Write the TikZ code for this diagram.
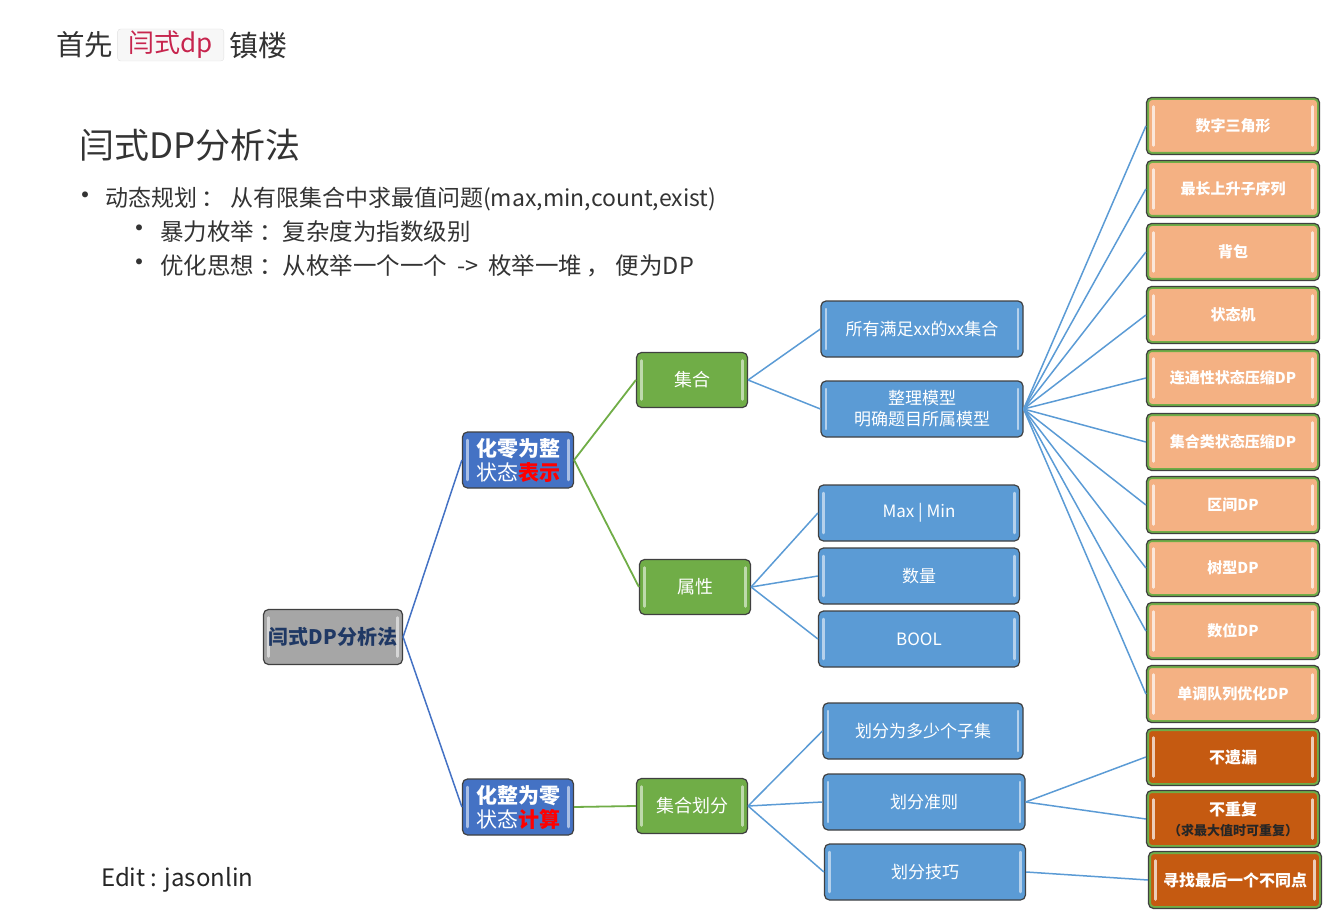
\documentclass[tikz,border=0pt]{standalone}
\usepackage{fontspec}
\setmainfont{Noto Sans CJK SC}
\usetikzlibrary{positioning}

\definecolor{rootgray}{HTML}{A6A6A6}
\definecolor{rootink}{HTML}{1F3864}
\definecolor{stateblue}{HTML}{4472C4}
\definecolor{leafblue}{HTML}{5B9BD5}
\definecolor{setgreen}{HTML}{70AD47}
\definecolor{modelorange}{HTML}{F4B183}
\definecolor{rulebrown}{HTML}{C55A11}
\definecolor{codered}{HTML}{C7254E}
\definecolor{inkgray}{HTML}{333333}

\tikzset{
  bevel/.style={path picture={
    \draw[white,opacity=.55,line width=2.5pt,line cap=round]
      ([shift={(5pt,-8pt)}]path picture bounding box.north west)
      -- ([shift={(5pt,8pt)}]path picture bounding box.south west)
      ([shift={(-5pt,-8pt)}]path picture bounding box.north east)
      -- ([shift={(-5pt,8pt)}]path picture bounding box.south east);}},
  ringbevel/.style={path picture={
    \draw[setgreen,line width=5pt,rounded corners=5pt]
      (path picture bounding box.south west) rectangle
      (path picture bounding box.north east);
    \draw[white,opacity=.7,line width=2.5pt,line cap=round]
      ([shift={(7pt,-9pt)}]path picture bounding box.north west)
      -- ([shift={(7pt,9pt)}]path picture bounding box.south west)
      ([shift={(-7pt,-9pt)}]path picture bounding box.north east)
      -- ([shift={(-7pt,9pt)}]path picture bounding box.south east);}},
  box/.style={draw=black!75,line width=1.2pt,rounded corners=5pt,text=white,
    align=center,inner sep=2pt,font=\fontsize{17}{21}\selectfont},
  rootbox/.style={box,bevel,fill=rootgray,text=rootink,minimum width=139pt,
    minimum height=55pt,font=\fontsize{20}{24}\selectfont\bfseries},
  statebox/.style={box,bevel,fill=stateblue,minimum width=111pt,
    minimum height=56pt,font=\fontsize{21}{24}\selectfont},
  setbox/.style={box,bevel,fill=setgreen,minimum width=111pt,minimum height=55pt,
    font=\fontsize{18}{21}\selectfont},
  leafbox/.style={box,bevel,fill=leafblue,minimum width=202pt,minimum height=56pt},
  modelbox/.style={box,ringbevel,fill=modelorange,minimum width=173pt,
    minimum height=57pt,font=\fontsize{15}{18}\selectfont\bfseries},
  rulebox/.style={modelbox,fill=rulebrown,font=\fontsize{16}{20}\selectfont\bfseries},
  trunk/.style={stateblue,line width=1.5pt},
  branch/.style={setgreen,line width=1.8pt},
  twig/.style={leafblue,line width=1.5pt},
  say/.style={anchor=west,inner sep=0,text=inkgray,font=\fontsize{23.5}{26}\selectfont},
  dot/.style={inner sep=0,text=inkgray,font=\fontsize{28}{30}\selectfont},
}

\begin{document}
\begin{tikzpicture}[x=1pt,y=-1pt]
\useasboundingbox (0,0) rectangle (1342,912);
% heading lines
\node[anchor=west,inner sep=0,text=inkgray,font=\fontsize{28.5}{30}\selectfont]
  (first) at (56,45) {首先};
\node[right=4pt of first,fill=black!3,draw=black!12,rounded corners=3pt,
  text=codered,minimum height=32pt,inner xsep=11pt,inner ysep=0pt,
  font=\fontsize{26}{28}\selectfont] (code) {闫式dp};
\node[right=5pt of code,inner sep=0,text=inkgray,font=\fontsize{29}{30}\selectfont]
  (last) {镇楼};
\node[anchor=west,inner sep=0,text=inkgray,font=\fontsize{35}{40}\selectfont]
  (title) at (79,145) {闫式DP分析法};
\node[dot] (dot1) at (85,199) {•};
\node[say,font=\fontsize{23}{26}\selectfont] (line1) at (105,199)
  {动态规划\hspace{4pt}：\hspace{6pt}从有限集合中求最值问题(max,min,count,exist)};
\node[dot] (dot2) at (139,232) {•};
\node[say] (line2) at (160,232) {暴力枚举\hspace{5pt}：复杂度为指数级别};
\node[dot] (dot3) at (139,266) {•};
\node[say] (line3) at (160,266)
  {优化思想\hspace{5pt}：从枚举一个一个\hspace{10pt}->\hspace{10pt}枚举一堆\hspace{4pt}，\hspace{6pt}便为DP};
\node[anchor=west,inner sep=0,text=black!85,font=\fontsize{24}{26}\selectfont]
  (edit) at (101,880) {Edit : jasonlin};

% tree
\node[rootbox] (root) at (333,637) {闫式DP分析法};
\node[statebox] (repr) at (518,460)
  {\textbf{化零为整}\\状态\textcolor{red}{\textbf{表示}}};
\node[statebox] (calc) at (518,807)
  {\textbf{化整为零}\\状态\textcolor{red}{\textbf{计算}}};
\node[setbox] (set) at (692,380) {集合};
\node[setbox] (attr) at (695,587) {属性};
\node[setbox] (part) at (692,806) {集合划分};
\node[leafbox] (all) at (922,329) {所有满足xx的xx集合};
\node[leafbox] (tidy) at (922,409) {整理模型\\明确题目所属模型};
\node[leafbox,minimum width=201pt] (maxmin) at (919,513) {Max | Min};
\node[leafbox,minimum width=201pt] (count) at (919,576) {数量};
\node[leafbox,minimum width=201pt] (bool) at (919,639) {BOOL};
\node[leafbox,minimum width=200pt] (nsub) at (923,731) {划分为多少个子集};
\node[leafbox] (rule) at (924,802) {划分准则};
\node[leafbox,minimum width=201pt] (trick) at (925,872) {划分技巧};

\draw[trunk] (root.east) -- (repr.west);
\draw[trunk] (root.east) -- (calc.west);
\draw[branch] (repr.east) -- (set.west);
\draw[branch] (repr.east) -- (attr.west);
\draw[branch] (calc.east) -- (part.west);
\foreach \a/\b in {set/all,set/tidy,attr/maxmin,attr/count,attr/bool,
  part/nsub,part/rule,part/trick}
  \draw[twig] (\a.east) -- (\b.west);

\foreach \i/\y/\t in {1/126/数字三角形,2/189/最长上升子序列,3/252/背包,
  4/315/状态机,5/378/连通性状态压缩DP,6/442/集合类状态压缩DP,7/505/区间DP,
  8/568/树型DP,9/631/数位DP,10/694/单调队列优化DP} {
  \node[modelbox] (m\i) at (1233,\y) {\t};
  \draw[twig] (tidy.east) -- (m\i.west);
}
\node[rulebox] (miss) at (1233,757) {不遗漏};
\node[rulebox] (dup) at (1233,819)
  {不重复\\{\fontsize{13}{15}\selectfont\color{black!85}（求最大值时可重复）}};
\node[rulebox] (final) at (1235,880) {寻找最后一个不同点};
\draw[twig] (rule.east) -- (miss.west);
\draw[twig] (rule.east) -- (dup.west);
\draw[twig] (trick.east) -- (final.west);
\end{tikzpicture}
\end{document}
